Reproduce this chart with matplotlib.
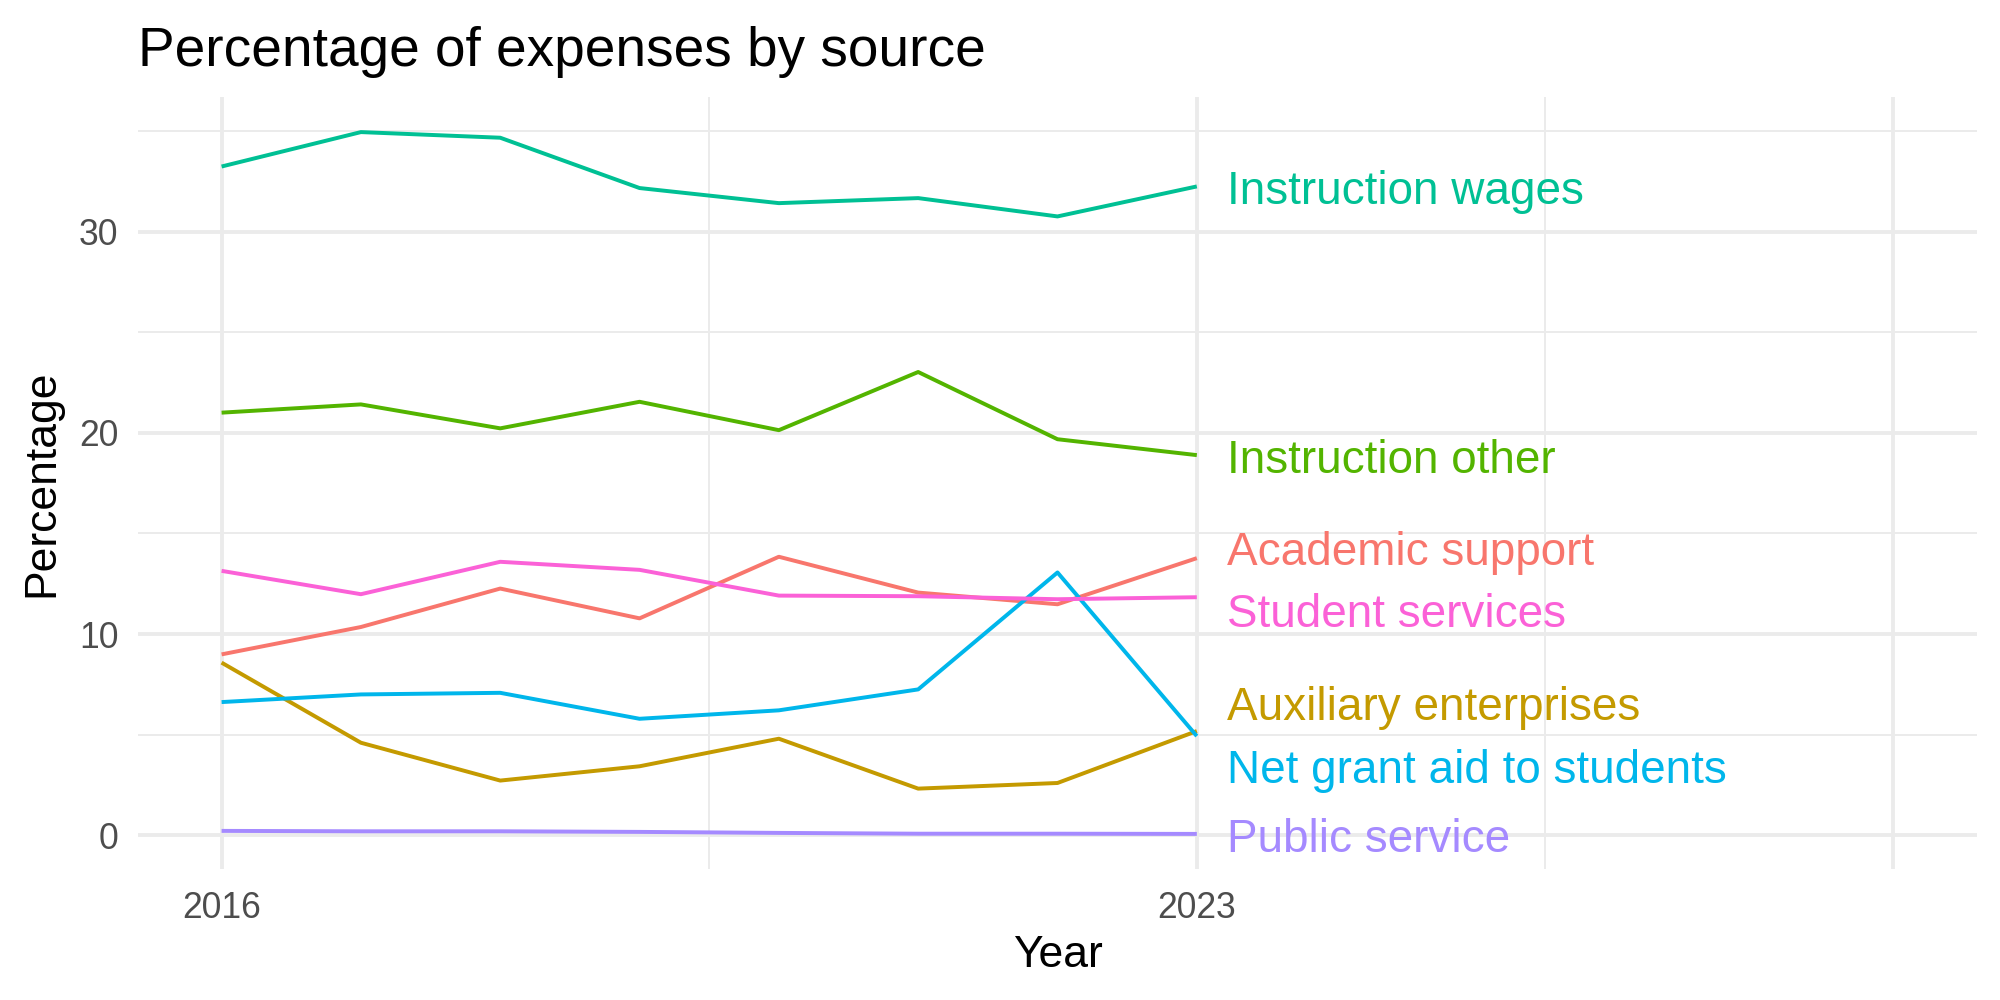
import matplotlib
matplotlib.use("Agg")
from matplotlib import pyplot as plt
from matplotlib.ticker import FixedLocator, FixedFormatter

plt.rcParams['font.family'] = ['Liberation Sans', 'DejaVu Sans']

years = [2016, 2017, 2018, 2019, 2020, 2021, 2022, 2023]

academic_support = [8.99, 10.35, 12.26, 10.78, 13.84, 12.06, 11.48, 13.77]
auxiliary_enterprises = [8.58, 4.60, 2.72, 3.43, 4.80, 2.32, 2.60, 5.18]
instruction_other = [21.00, 21.41, 20.22, 21.54, 20.13, 23.02, 19.68, 18.89]
instruction_wages = [33.23, 34.94, 34.66, 32.16, 31.41, 31.66, 30.75, 32.24]
net_grant_aid = [6.62, 7.00, 7.08, 5.79, 6.21, 7.25, 13.06, 4.93]
public_service = [0.22, 0.20, 0.20, 0.17, 0.12, 0.08, 0.08, 0.07]
student_services = [13.14, 11.98, 13.59, 13.19, 11.91, 11.88, 11.73, 11.83]

sources = ["Academic support", "Auxiliary enterprises", "Instruction other",
           "Instruction wages", "Net grant aid to students", "Public service",
           "Student services"]
series = [academic_support, auxiliary_enterprises, instruction_other,
          instruction_wages, net_grant_aid, public_service, student_services]
colors = ["#F8766D", "#C49A00", "#53B400", "#00C094", "#00B6EB", "#A58AFF",
          "#FB61D7"]

x_breaks = [2016, 2023, 2028]
x_labels = ["2016", "2023", ""]
y_breaks = [0, 10, 20, 30]


def repel(values, gap, n_iter=50):
    # push label positions apart until they are at least `gap` apart
    pos = list(values)
    order = sorted(range(len(pos)), key=lambda i: pos[i])
    for _ in range(n_iter):
        moved = False
        for a, b in zip(order[:-1], order[1:]):
            d = pos[b] - pos[a]
            if d < gap:
                shift = (gap - d) / 2
                pos[a] -= shift
                pos[b] += shift
                moved = True
        if not moved:
            break
    return pos


fig = plt.figure(figsize=(10, 5), dpi=200)
ax = fig.add_axes([0.069, 0.131, 0.9195, 0.772])

for name, vals, col in zip(sources, series, colors):
    ax.plot(years, vals, color=col, linewidth=1.42, solid_capstyle='butt',
            zorder=3)

ends = [s[-1] for s in series]
label_y = repel(ends, 3.1)
for name, y, col in zip(sources, label_y, colors):
    ax.text(years[-1] + 0.22, y - 0.3, name, color=col, fontsize=16.5,
            va='center', ha='left', zorder=4)

xmin, xmax = 2016, 2028
xpad = 0.05 * (xmax - xmin)
ax.set_xlim(xmin - xpad, xmax + xpad)
ymin, ymax = 0.07, 34.94
ypad = 0.05 * (ymax - ymin)
ax.set_ylim(ymin - ypad, ymax + ypad)

ax.xaxis.set_major_locator(FixedLocator(x_breaks))
ax.xaxis.set_major_formatter(FixedFormatter(x_labels))
ax.xaxis.set_minor_locator(FixedLocator([2019.5, 2025.5]))
ax.yaxis.set_major_locator(FixedLocator(y_breaks))
ax.yaxis.set_minor_locator(FixedLocator([5, 15, 25, 35]))

ax.grid(which='major', color='#EBEBEB', linewidth=1.4)
ax.grid(which='minor', color='#EBEBEB', linewidth=0.7)
ax.set_axisbelow(True)
for s in ax.spines.values():
    s.set_visible(False)
ax.tick_params(which='both', length=0, labelsize=12.8, labelcolor='#4D4D4D')
ax.tick_params(axis='x', pad=8)
ax.tick_params(axis='y', pad=7)

ax.set_xlabel("Year", fontsize=16, labelpad=3)
ax.set_ylabel("Percentage", fontsize=16, labelpad=6)
ax.set_title("Percentage of expenses by source", fontsize=19.8, loc='left',
             pad=11)

fig.savefig("out.png", dpi=200, facecolor='white')
